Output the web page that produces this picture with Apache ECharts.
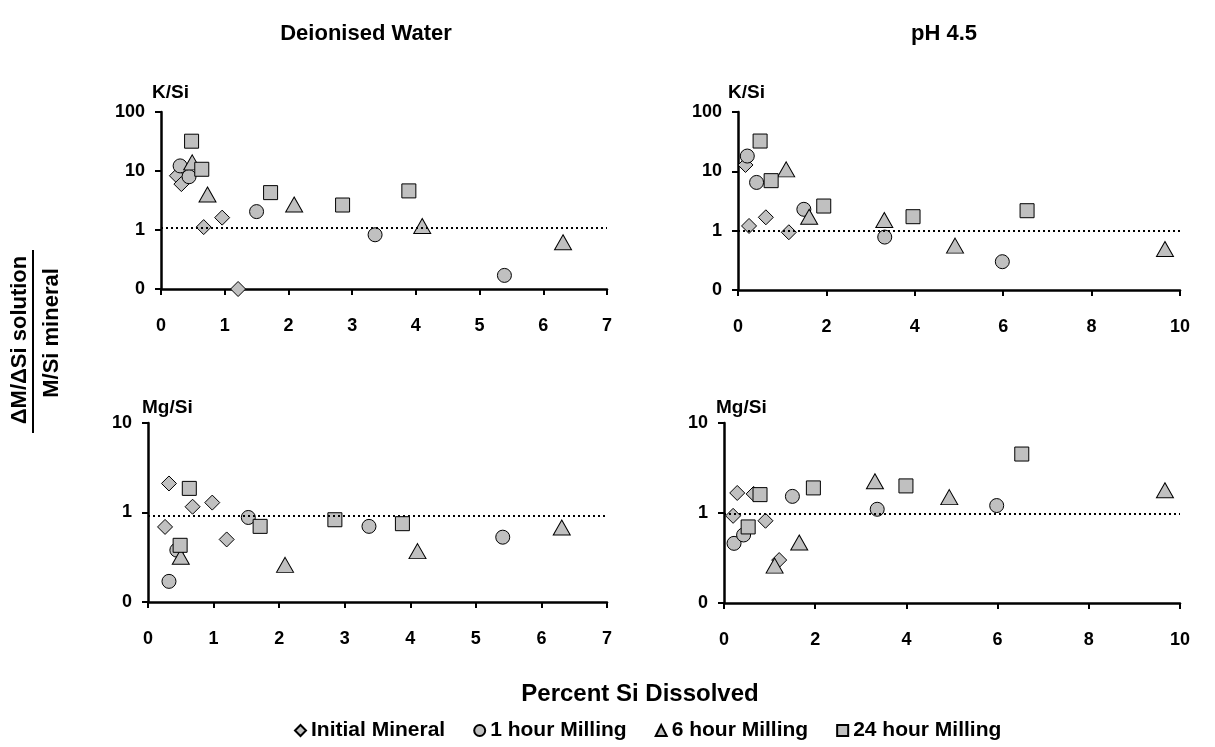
<!DOCTYPE html>
<html>
<head>
<meta charset="utf-8">
<script src="https://cdn.jsdelivr.net/npm/echarts@6/dist/echarts.min.js"></script>
<style>
  html, body { margin: 0; padding: 0; background: #fff; }
  #chart { width: 1215px; height: 747px; }
</style>
</head>
<body>
<div id="chart"></div>
<script>
// 图例名称
var seriesNames = ['Initial Mineral', '1 hour Milling', '6 hour Milling', '24 hour Milling'];
var seriesSymbols = ['diamond', 'circle', 'triangle', 'rect'];

// 面板标题
var colTitles = ['Deionised Water', 'pH 4.5'];
var rowTitles = ['K/Si', 'Mg/Si'];

// x轴最大值
var xMaxDI = 7;
var xMaxPH = 10;

// 参考线 (矿物比值)
var refLines = [1.08, 1.0, 0.93, 0.97];

// K/Si, 去离子水  [Si溶解百分比, 比值]
var kDI_initial = [[0.25, 8.3], [0.32, 6.0], [0.67, 1.12], [0.96, 1.62], [1.21, 0.1]];
var kDI_1h = [[0.30, 12.2], [0.44, 8.0], [1.50, 2.05], [3.36, 0.83], [5.39, 0.17]];
var kDI_6h = [[0.49, 14], [0.73, 4.0], [2.09, 2.7], [4.10, 1.17], [6.31, 0.62]];
var kDI_24h = [[0.48, 32], [0.64, 10.7], [1.72, 4.3], [2.85, 2.65], [3.89, 4.6]];

// K/Si, pH 4.5
var kPH_initial = [[0.17, 12.8], [0.25, 1.2], [0.63, 1.68], [1.15, 0.94]];
var kPH_1h = [[0.21, 18.1], [0.42, 6.5], [1.49, 2.29], [3.32, 0.78], [5.98, 0.30]];
var kPH_6h = [[1.09, 10.8], [1.61, 1.72], [3.31, 1.51], [4.91, 0.56], [9.66, 0.49]];
var kPH_24h = [[0.50, 32.4], [0.75, 6.96], [1.94, 2.6], [3.96, 1.72], [6.54, 2.17]];

// Mg/Si, 去离子水
var mgDI_initial = [[0.26, 0.69], [0.32, 2.11], [0.68, 1.16], [0.98, 1.29], [1.20, 0.50]];
var mgDI_1h = [[0.32, 0.17], [0.44, 0.38], [1.53, 0.88], [3.37, 0.70], [5.41, 0.53]];
var mgDI_6h = [[0.50, 0.32], [2.09, 0.26], [4.11, 0.37], [6.31, 0.68]];
var mgDI_24h = [[0.63, 1.86], [0.49, 0.43], [1.71, 0.70], [2.85, 0.83], [3.88, 0.75]];

// Mg/Si, pH 4.5
var mgPH_initial = [[0.20, 0.93], [0.29, 1.67], [0.65, 1.63], [0.91, 0.82], [1.21, 0.30]];
var mgPH_1h = [[0.22, 0.46], [0.43, 0.57], [1.50, 1.53], [3.36, 1.10], [5.98, 1.21]];
var mgPH_6h = [[1.11, 0.26], [1.65, 0.47], [3.31, 2.25], [4.94, 1.50], [9.67, 1.79]];
var mgPH_24h = [[0.79, 1.60], [0.53, 0.70], [1.96, 1.90], [3.99, 2.0], [6.53, 4.52]];

var panelData = [
	[kDI_initial, kDI_1h, kDI_6h, kDI_24h],
	[kPH_initial, kPH_1h, kPH_6h, kPH_24h],
	[mgDI_initial, mgDI_1h, mgDI_6h, mgDI_24h],
	[mgPH_initial, mgPH_1h, mgPH_6h, mgPH_24h]
];

var FONT = '"Liberation Sans", Arial, sans-serif';

// 每个面板的位置
var grids = [
	{left: 161, top: 112, width: 446, height: 177},
	{left: 738, top: 112, width: 442, height: 178},
	{left: 148, top: 423, width: 459, height: 179},
	{left: 724, top: 423, width: 456, height: 180}
];
var xMaxes = [xMaxDI, xMaxPH, xMaxDI, xMaxPH];
var xIntervals = [1, 2, 1, 2];
var yMaxes = [100, 100, 10, 10];
// 标记大小
var symbolSizes = [15, 14, [17, 15], 14];

var axisLineStyle = {color: '#000', width: 2.5};
var tickLabel = {color: '#000', fontSize: 18, fontWeight: 'bold', fontFamily: FONT};

var xAxes = [], yAxes = [], series = [];
for (var p = 0; p < 4; p++) {
	xAxes.push({
		type: 'value', gridIndex: p, min: 0, max: xMaxes[p], interval: xIntervals[p],
		axisLine: {show: true, lineStyle: axisLineStyle},
		axisTick: {show: true, length: 6, lineStyle: {color: '#000', width: 2}},
		axisLabel: Object.assign({margin: 28}, tickLabel),
		splitLine: {show: false}
	});
	yAxes.push({
		type: 'log', logBase: 10, gridIndex: p, min: 0.1, max: yMaxes[p],
		axisLine: {show: true, onZero: false, lineStyle: axisLineStyle},
		axisTick: {show: true, length: 6, lineStyle: {color: '#000', width: 2}},
		axisLabel: Object.assign({margin: 16, formatter: function (v) {
			return String(Math.round(v));
		}}, tickLabel),
		splitLine: {show: false},
		minorTick: {show: false}
	});
	for (var s = 0; s < 4; s++) {
		var one = {
			name: seriesNames[s],
			type: 'scatter',
			xAxisIndex: p,
			yAxisIndex: p,
			symbol: seriesSymbols[s],
			symbolSize: symbolSizes[s],
			clip: false,
			z: 3,
			itemStyle: {color: '#c0c0c0', borderColor: '#000', borderWidth: 1, opacity: 1},
			data: panelData[p][s]
		};
		if (s == 0) {
			one.markLine = {
				silent: true,
				symbol: 'none',
				label: {show: false},
				lineStyle: {color: '#000', type: [2, 3], width: 2},
				data: [{yAxis: refLines[p]}]
			};
		}
		series.push(one);
	}
}

function txt(x, y, text, size, extra) {
	var o = {
		type: 'text', x: x, y: y,
		style: {
			text: text, fill: '#000', fontSize: size, fontWeight: 'bold', fontFamily: FONT,
			align: 'center', verticalAlign: 'middle'
		}
	};
	if (extra) Object.assign(o, extra);
	return o;
}

var myChart = echarts.init(document.getElementById('chart'));
var option = {
	animation: false,
	backgroundColor: '#fff',
	grid: grids,
	xAxis: xAxes,
	yAxis: yAxes,
	legend: {
		data: seriesNames.map(function (n, i) { return {name: n, icon: seriesSymbols[i]}; }),
		left: 289,
		top: 715,
		itemWidth: 11,
		itemHeight: 11,
		itemGap: 28,
		selectedMode: false,
		textStyle: {color: '#000', fontSize: 21, fontWeight: 'bold', fontFamily: FONT}
	},
	graphic: [
		txt(366, 34, colTitles[0], 22),
		txt(944, 34, colTitles[1], 22),
		txt(640, 694, 'Percent Si Dissolved', 24),
		txt(152, 93, rowTitles[0], 19, {}),
		txt(728, 93, rowTitles[0], 19, {}),
		txt(142, 408, rowTitles[1], 19, {}),
		txt(716, 408, rowTitles[1], 19, {}),
		txt(20, 340, '\u0394M/\u0394Si solution', 22, {rotation: Math.PI / 2}),
		txt(52, 333, 'M/Si mineral', 22, {rotation: Math.PI / 2}),
		{type: 'line', shape: {x1: 33, y1: 250, x2: 33, y2: 433}, style: {stroke: '#000', lineWidth: 2}}
	],
	series: series
};
// K/Si 等标签左对齐
for (var g = 3; g <= 6; g++) option.graphic[g].style.align = 'left';

myChart.setOption(option);
</script>
</body>
</html>
